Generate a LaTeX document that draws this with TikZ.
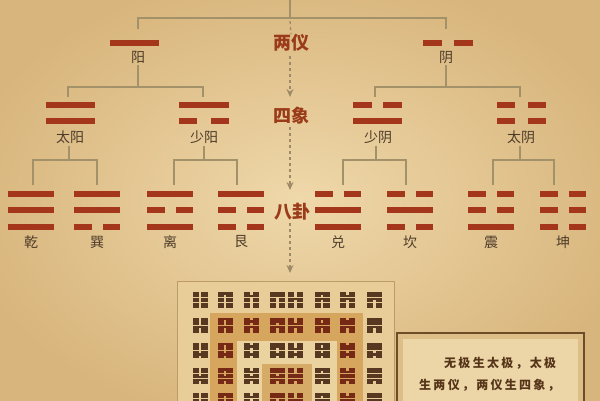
\documentclass[tikz,border=0pt]{standalone}
\usepackage{fontspec}
\newfontfamily\cjk{Noto Sans CJK SC}
\newfontfamily\cjksp[LetterSpace=19]{Noto Sans CJK SC}
\usetikzlibrary{arrows.meta}
\definecolor{paperin}{HTML}{EFD8AA}
\definecolor{paperout}{HTML}{D8B57C}
\definecolor{barc}{HTML}{A3361B}
\definecolor{treec}{HTML}{A3916A}
\definecolor{flowc}{HTML}{9E8A66}
\definecolor{labc}{HTML}{4E3C2A}
\definecolor{midc}{HTML}{9A3B1A}
\definecolor{textc}{HTML}{553418}
\definecolor{hexbrown}{HTML}{573820}
\definecolor{hexred}{HTML}{762A16}
\definecolor{gridouter}{HTML}{E9CD98}
\definecolor{gridline}{HTML}{BB9B66}
\definecolor{ringa}{HTML}{D6A65E}
\definecolor{ringb}{HTML}{EBD3A0}
\definecolor{ringc}{HTML}{D6AB68}
\definecolor{boxedge}{HTML}{6F4C28}
\definecolor{boxmid}{HTML}{DDBE86}
\definecolor{boxin}{HTML}{ECD6A8}
% one yao line: cx, cy, width, gap (0 = solid), thickness
\newcommand\yaoline[5]{%
  \ifdim#4pt=0pt
    \fill[barc] (#1-#3/2,#2-#5/2) rectangle (#1+#3/2,#2+#5/2);
  \else
    \fill[barc] (#1-#3/2,#2-#5/2) rectangle (#1-#4/2,#2+#5/2);
    \fill[barc] (#1+#4/2,#2-#5/2) rectangle (#1+#3/2,#2+#5/2);
  \fi}
% trigram: cx, three flags top..bottom (1 solid, 0 broken)
\newcommand\trigram[4]{%
  \ifnum#2=1 \yaoline{#1}{194}{46}{0}{6}\else\yaoline{#1}{194}{46}{11}{6}\fi
  \ifnum#3=1 \yaoline{#1}{210}{46}{0}{6}\else\yaoline{#1}{210}{46}{11}{6}\fi
  \ifnum#4=1 \yaoline{#1}{227}{46}{0}{6}\else\yaoline{#1}{227}{46}{11}{6}\fi}
\begin{document}
\begin{tikzpicture}[x=1pt,y=-1pt,
  tree/.style={draw=treec,line width=2pt},
  flow/.style={draw=flowc,line width=1.3pt,dash pattern=on 3pt off 3pt},
  flowarr/.style={flow,-{Stealth[length=8pt,width=7pt]}},
  lab/.style={font=\cjk\fontsize{14}{14}\selectfont,text=labc,inner sep=0pt},
  mid/.style={font=\cjk\bfseries\fontsize{18}{18}\selectfont,text=midc,inner sep=0pt},
  para/.style={font=\cjksp\bfseries\fontsize{12}{12}\selectfont,text=textc,inner sep=0pt,anchor=west}]
\useasboundingbox (0,0) rectangle (600,400);
\clip (0,0) rectangle (600,400);
\shade[inner color=paperin,outer color=paperout] (-40,-30) rectangle (640,430);

% ---------- labels ----------
\node[mid] (L1) at (291,43) {两仪};
\node[mid] (L2) at (291,116) {四象};
\node[mid] (L3) at (292,212) {八卦};
\node[lab] (yang) at (138,57) {阳};
\node[lab] (yin) at (446,57) {阴};
\node[lab] (taiyang) at (70,137) {太阳};
\node[lab] (shaoyang) at (204,137) {少阳};
\node[lab] (shaoyin) at (378,137) {少阴};
\node[lab] (taiyin) at (521,137) {太阴};
\node[lab] (qian) at (31,242) {乾};
\node[lab] (xun) at (97,242) {巽};
\node[lab] (li) at (170,242) {离};
\node[lab] (gen) at (241,242) {艮};
\node[lab] (dui) at (338,242) {兑};
\node[lab] (kan) at (410,242) {坎};
\node[lab] (zhen) at (491,242) {震};
\node[lab] (kun) at (563,242) {坤};

% ---------- tree connectors ----------
\coordinate (top) at (290,0);
\coordinate (hub) at (290,18);
\draw[tree] (top) -- (hub);
\draw[tree] (138,29) -- (138,18) -- (446,18) -- (446,29);
% level 2
\draw[tree] (yang.south) ++(0,2) -- (138,87);
\draw[tree] (68,97) -- (68,87) -- (203,87) -- (203,97);
\draw[tree] (yin.south) ++(0,2) -- (446,87);
\draw[tree] (375,97) -- (375,87) -- (520,87) -- (520,97);
% level 3
\draw[tree] (taiyang.south) ++(-1,2) -- (69,160);
\draw[tree] (33,185) -- (33,160) -- (97,160) -- (97,185);
\draw[tree] (shaoyang.south) ++(0,2) -- (204,160);
\draw[tree] (174,185) -- (174,160) -- (237,160) -- (237,185);
\draw[tree] (shaoyin.south) ++(-2,2) -- (376,160);
\draw[tree] (343,185) -- (343,160) -- (406,160) -- (406,185);
\draw[tree] (taiyin.south) ++(-1,2) -- (520,160);
\draw[tree] (493,185) -- (493,160) -- (554,160) -- (554,185);

% ---------- central dashed flow ----------
\coordinate (f0) at (290,21);
\coordinate (a1s) at (290,56);
\coordinate (a1e) at (290,97);
\coordinate (a2s) at (290,127);
\coordinate (a2e) at (290,190);
\coordinate (a3s) at (290,223);
\coordinate (a3e) at (290,273);
\draw[flow] (f0) -- (L1.north);
\draw[flowarr] (a1s) -- (a1e);
\draw[flowarr] (a2s) -- (a2e);
\draw[flowarr] (a3s) -- (a3e);

% ---------- bars ----------
\yaoline{134.5}{43}{49}{0}{6}
\yaoline{448}{43}{50}{12}{6}
\yaoline{70.5}{105}{49}{0}{6}\yaoline{70.5}{121}{49}{0}{6}
\yaoline{204}{105}{50}{0}{6}\yaoline{204}{121}{50}{14}{6}
\yaoline{377.5}{105}{49}{11}{6}\yaoline{377.5}{121}{49}{0}{6}
\yaoline{521.5}{105}{49}{13}{6}\yaoline{521.5}{121}{49}{13}{6}
\trigram{31}{1}{1}{1}
\trigram{97}{1}{1}{0}
\trigram{170}{1}{0}{1}
\trigram{241}{1}{0}{0}
\trigram{338}{0}{1}{1}
\trigram{410}{0}{1}{0}
\trigram{491}{0}{0}{1}
\trigram{563}{0}{0}{0}

% ---------- hexagram square ----------
\draw[gridline,fill=gridouter,line width=1pt] (177,281) rectangle (394,412);
\fill[ringa] (210,313) rectangle (363,412);
\fill[ringb] (237,341) rectangle (337,412);
\fill[ringc] (262,364) rectangle (312,412);
\foreach \r/\cy in {0/300,1/325.5,2/350.5,3/376,4/401}{
  \foreach \c/\cx in {0/200,1/225,2/251.5,3/277.5,4/295.5,5/322,6/347.5,7/374.5}{
    \pgfmathtruncatemacro\ring{min(min(\r,\c),min(7-\c,7-\r))}
    \pgfmathtruncatemacro\val{\c+8*\r}
    \ifodd\ring \def\hc{hexred}\else\def\hc{hexbrown}\fi
    \foreach \p in {0,...,5}{
      \pgfmathtruncatemacro\bit{mod(floor(\val/(2^\p)),2)}
      \pgfmathsetmacro\ly{\cy-6.5+\p*2.6}
      \ifnum\bit=1
        \fill[\hc] (\cx-7.5,\ly-1.15) rectangle (\cx+7.5,\ly+1.15);
      \else
        \fill[\hc] (\cx-7.5,\ly-1.15) rectangle (\cx-1.3,\ly+1.15);
        \fill[\hc] (\cx+1.3,\ly-1.15) rectangle (\cx+7.5,\ly+1.15);
      \fi
    }
  }
}

% ---------- text box ----------
\draw[boxedge,fill=boxmid,line width=1.6pt] (397,333) rectangle (584,412);
\fill[boxin] (403,339) rectangle (578,412);
\node[para] (t1) at (444,363) {无极生太极，太极};
\node[para] (t2) at (419,385) {生两仪，两仪生四象，};
\end{tikzpicture}
\end{document}
